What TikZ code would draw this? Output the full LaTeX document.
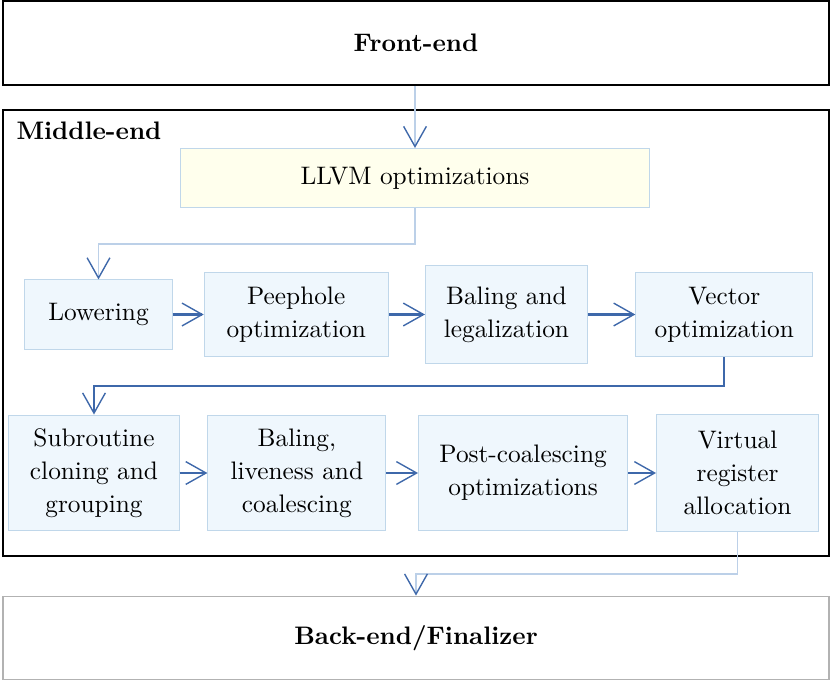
\documentclass[tikz,border=0pt]{standalone}
\usepackage{xcolor}
\usetikzlibrary{arrows.meta, positioning}

\definecolor{passfill}{RGB}{239,247,253}
\definecolor{passedge}{RGB}{192,215,234}
\definecolor{llvmfill}{RGB}{255,255,237}
\definecolor{flowblue}{RGB}{62,104,170}
\definecolor{paleblue}{RGB}{188,208,232}
\definecolor{backedge}{RGB}{178,178,178}

\begin{document}
\begin{tikzpicture}[
    x=0.395pt, y=-0.395pt,
    font=\fontsize{10}{13}\selectfont,
    stage/.style={
        draw,
        align=center,
        minimum width=326.3pt,
        minimum height=33pt,
        font=\fontsize{10}{13}\selectfont\bfseries
    },
    pass/.style={
        draw=passedge,
        fill=passfill,
        align=center,
        inner sep=0pt
    },
    flow/.style={draw=flowblue, line width=0.8pt,
        -{Straight Barb[length=8pt, width=9pt, line width=0.55pt]}},
    paleflow/.style={draw=paleblue, line width=0.45pt,
        -{Straight Barb[length=8pt, width=9pt, line width=0.55pt, color=flowblue]}}
]
\useasboundingbox (0,0) rectangle (830,680);

\node[draw, line width=0.6pt, minimum width=326.3pt, minimum height=176.2pt] (midbox) at (416,333) {};
\node[anchor=base west, inner sep=0pt, font=\fontsize{10}{13}\selectfont\bfseries] (midlabel) at (16,139) {Middle-end};

\node[stage, line width=0.8pt] (front) at (416,43) {Front-end};
\node[stage, draw=backedge, line width=0.5pt] (back) at (416,638) {Back-end/Finalizer};

\node[pass, fill=llvmfill, minimum width=184.9pt, minimum height=23.3pt] (llvm) at (415,178) {LLVM optimizations};

% first row of passes
\node[pass, minimum width=58.1pt, minimum height=27.3pt] (lower) at (98.5,314.5) {Lowering};
\node[pass, minimum width=72.7pt, minimum height=33.2pt, right=12.3pt of lower] (peep) {Peephole\\optimization};
\node[pass, minimum width=64pt, minimum height=38.7pt, right=14.3pt of peep] (baling) {Baling and\\legalization};
\node[pass, minimum width=69.9pt, minimum height=33.2pt, right=18.7pt of baling] (vector) {Vector\\optimization};

% second row of passes
\node[pass, minimum width=67.2pt, minimum height=45.8pt] (sub) at (94,473) {Subroutine\\cloning and\\grouping};
\node[pass, minimum width=70.3pt, minimum height=45.8pt, right=11pt of sub] (live) {Baling,\\liveness and\\coalescing};
\node[pass, minimum width=82.6pt, minimum height=45.8pt, right=12.5pt of live] (post) {Post-coalescing\\optimizations};
\node[pass, minimum width=64pt, minimum height=46.2pt, right=11pt of post] (vra) {Virtual\\register\\allocation};

\draw[paleflow] (front.south -| llvm.north) -- (llvm);
\draw[paleflow] (llvm.south) -- ++(0,36) -| (lower.north);
\draw[flow] (lower) -- (peep);
\draw[flow] (peep) -- (baling);
\draw[flow] (baling) -- (vector);
\draw[flow] (vector.south) -- ++(0,29) -| (sub.north);
\draw[flow] (sub) -- (live);
\draw[flow] (live) -- (post);
\draw[flow] (post) -- (vra);
\draw[paleflow] (vra.south) -- ++(0,42) -| (back.north);

\end{tikzpicture}
\end{document}
